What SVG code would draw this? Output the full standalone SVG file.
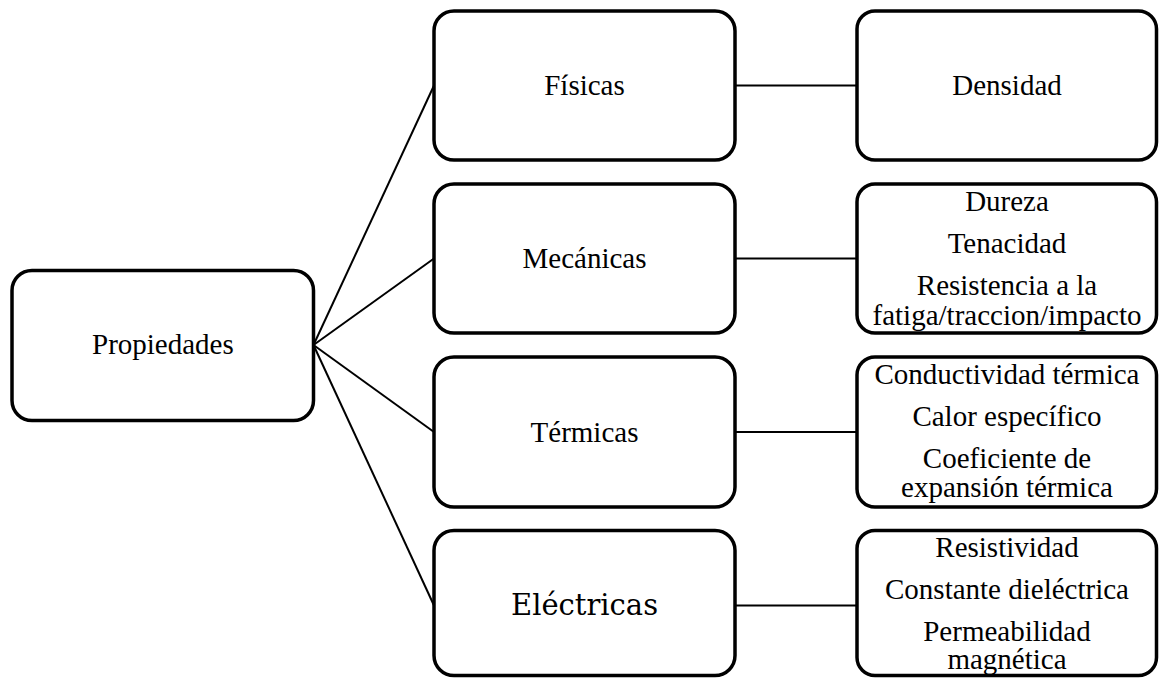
<svg xmlns="http://www.w3.org/2000/svg" width="1159" height="678" viewBox="0 0 1159 678">
<style>
.box{fill:#fff;stroke:#000;stroke-width:3.5}
.con{stroke:#000;stroke-width:2;fill:none}
</style>
<rect width="1159" height="678" fill="#fff"/>
<g id="connectors">
<line class="con" x1="313.5" y1="345" x2="434" y2="85.5"/>
<line class="con" x1="313.5" y1="345" x2="434" y2="258.5"/>
<line class="con" x1="313.5" y1="345" x2="434" y2="432"/>
<line class="con" x1="313.5" y1="345" x2="434" y2="605.5"/>
<line class="con" x1="735" y1="85.5" x2="857" y2="85.5"/>
<line class="con" x1="735" y1="258.5" x2="857" y2="258.5"/>
<line class="con" x1="735" y1="432" x2="857" y2="432"/>
<line class="con" x1="735" y1="605.5" x2="857" y2="605.5"/>
</g>
<g id="propiedades">
<rect class="box" x="12" y="270.5" width="301.5" height="150" rx="20"/>
<text font-family="Liberation Serif" font-size="29" x="92" y="354">Propiedades</text>
</g>
<g id="fisicas">
<rect class="box" x="434" y="11" width="301" height="149" rx="20"/>
<text font-family="Times New Roman" font-size="29" text-anchor="middle" x="584.5" y="95">Físicas</text>
</g>
<g id="mecanicas">
<rect class="box" x="434" y="184" width="301" height="149" rx="20"/>
<text font-family="serif" font-size="29" text-anchor="middle" x="584.5" y="268">Mecánicas</text>
</g>
<g id="termicas">
<rect class="box" x="434" y="357" width="301" height="150" rx="20"/>
<text font-family="Tinos" font-size="29" text-anchor="middle" x="584.5" y="441.5">Térmicas</text>
</g>
<g id="electricas">
<rect class="box" x="434" y="530.5" width="301" height="145" rx="20"/>
<text font-family="DejaVu Serif" font-size="29" text-anchor="middle" x="584.5" y="615">Eléctricas</text>
</g>
<g id="densidad">
<rect class="box" x="857" y="11" width="299.5" height="149" rx="18"/>
<text style="font-family:'Liberation Serif'" font-size="29" text-anchor="middle" x="1007" y="95">Densidad</text>
</g>
<g id="mecanicas-detalle">
<rect class="box" x="857" y="184" width="299.5" height="149" rx="18"/>
<text font-family="Liberation Serif" font-size="29" text-anchor="middle" x="1007" y="211">Dureza</text>
<text font-family="Liberation Serif" font-size="29" text-anchor="middle" x="1007" y="253">Tenacidad</text>
<text font-family="Liberation Serif" font-size="29" text-anchor="middle" x="1007" y="295">Resistencia a la</text>
<text font-family="Liberation Serif" font-size="29" text-anchor="middle" x="1007" y="324.5">fatiga/traccion/impacto</text>
</g>
<g id="termicas-detalle">
<rect class="box" x="857" y="357" width="299.5" height="150" rx="18"/>
<text font-family="Liberation Serif" font-size="29" text-anchor="middle" x="1007" y="383.5">Conductividad térmica</text>
<text font-family="Liberation Serif" font-size="29" text-anchor="middle" x="1007" y="425.5">Calor específico</text>
<text font-family="Liberation Serif" font-size="29" text-anchor="middle" x="1007" y="467.5">Coeficiente de</text>
<text font-family="Liberation Serif" font-size="29" text-anchor="middle" x="1007" y="497">expansión térmica</text>
</g>
<g id="electricas-detalle">
<rect class="box" x="857" y="530.5" width="299.5" height="145" rx="18"/>
<text font-family="Liberation Serif" font-size="29" text-anchor="middle" x="1007" y="557">Resistividad</text>
<text font-family="Liberation Serif" font-size="29" text-anchor="middle" x="1007" y="599">Constante dieléctrica</text>
<text font-family="Liberation Serif" font-size="29" text-anchor="middle" x="1007" y="640.5">Permeabilidad</text>
<text font-family="Liberation Serif" font-size="29" text-anchor="middle" x="1007" y="669">magnética</text>
</g>
</svg>
